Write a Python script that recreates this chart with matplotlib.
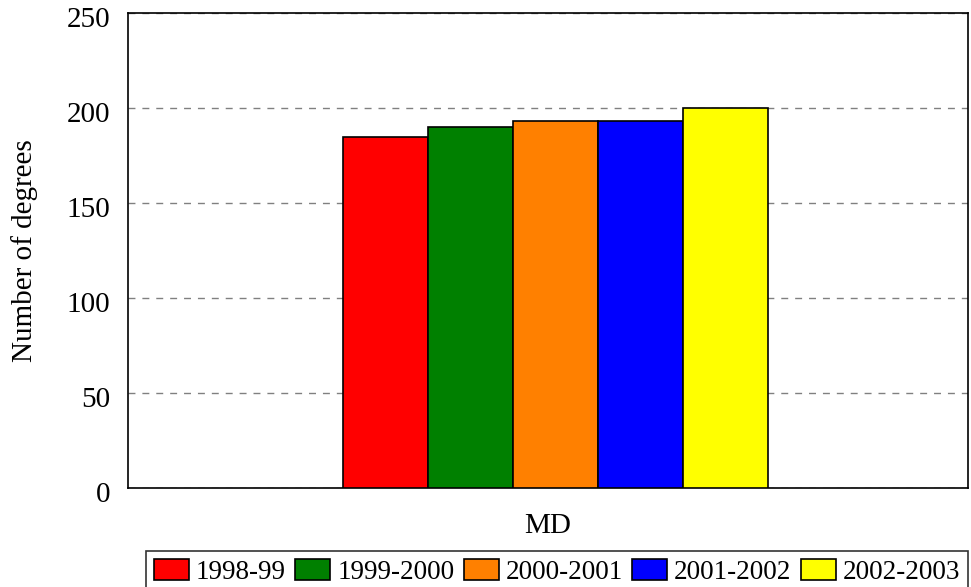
import matplotlib
matplotlib.use("Agg")
import matplotlib.pyplot as plt
import matplotlib.transforms as mtransforms
import numpy as np

plt.rcParams['font.family'] = ['Liberation Serif', 'DejaVu Serif']

categories = ["MD"]
series = ["1998-99", "1999-2000", "2000-2001", "2001-2002", "2002-2003"]
values = [185, 190, 193, 193, 200]
colors = ["#ff0000", "#008000", "#ff8000", "#0000ff", "#ffff00"]

FS = 21

fig = plt.figure(figsize=(9.71, 5.87), dpi=100)
ax = fig.add_axes([128/971, 1 - 488/587, 840/971, 475/587])

w = 1.0
n = len(series)
offsets = (np.arange(n) - (n - 1) / 2) * w
for off, v, c, s in zip(offsets, values, colors, series):
    ax.bar(off, v, width=w, color=c, edgecolor="black", linewidth=1.2, label=s, zorder=3)

ax.set_ylim(0, 250)
ax.set_yticks([0, 50, 100, 150, 200, 250])
left_units = (343 - 128) / 85
ax.set_xlim(-2.5 - left_units, -2.5 - left_units + 840 / 85)
ax.set_xticks([-0.09])
ax.set_xticklabels(categories)
ax.tick_params(axis='x', length=0, labelsize=FS, pad=18)
ax.tick_params(axis='y', labelsize=FS, length=0, pad=13)
shift = mtransforms.ScaledTranslation(0, -4/100, fig.dpi_scale_trans)
for lbl in ax.get_yticklabels():
    lbl.set_transform(lbl.get_transform() + shift)
ax.yaxis.grid(True, linestyle=(0, (5, 5)), color='#808080', linewidth=1, zorder=0)
ax.set_axisbelow(True)
for sp in ax.spines.values():
    sp.set_linewidth(1.2)
ax.set_ylabel("Number of degrees", fontsize=FS, labelpad=20)

leg = fig.legend(loc='lower left', bbox_to_anchor=(146/971, -6/587, 822/971, 49/587),
                 mode='expand', ncol=5, fontsize=19.5, frameon=True, fancybox=False,
                 handlelength=1.3, handleheight=0.8, handletextpad=0.25,
                 columnspacing=0.6, borderpad=0.3, borderaxespad=0)
leg.get_frame().set_edgecolor('black')
leg.get_frame().set_linewidth(1.2)
for h in leg.legend_handles:
    h.set_edgecolor('black')

fig.savefig("out.png", dpi=100)
